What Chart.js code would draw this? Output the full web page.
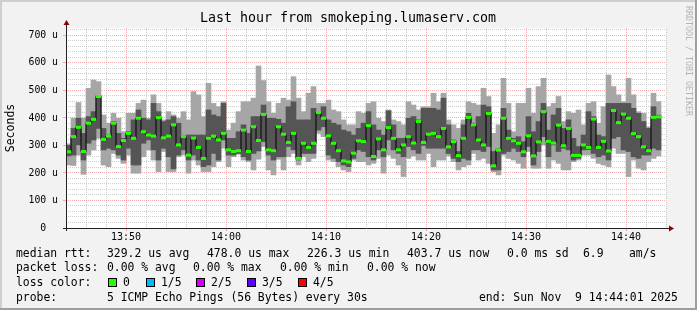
<!DOCTYPE html>
<html>
<head>
<meta charset="utf-8">
<script src="https://cdn.jsdelivr.net/npm/chart.js@4.4.1/dist/chart.umd.min.js"></script>
<style>
  html, body { margin: 0; padding: 0; background: #f2f2f2; }
  canvas { display: block; }
</style>
</head>
<body>
<canvas id="pingChart" width="697" height="310"></canvas>
<script>
// Smokeping style graph: 5 pings every 30 s, values in microseconds
const startTime = 13 * 3600 + 44 * 60;   // 13:44:00
const endTime = 14 * 3600 + 44 * 60;     // 14:44:00
const stepSeconds = 30;

// sorted pings per step: min, 2nd, median, 4th, max
const pingMin = [229,227,265,195,265,284,326,229,223,271,253,235,265,199,199,259,284,247,205,278,
  205,205,259,265,199,247,229,205,205,223,241,290,223,259,268,247,241,211,250,296,
  211,193,250,211,259,271,229,259,241,253,344,332,247,241,223,211,205,247,241,241,
  229,235,253,199,265,253,229,187,253,262,247,247,271,223,247,247,262,241,211,223,
  229,271,247,253,235,205,193,265,253,247,235,217,278,217,217,302,217,247,235,211,
  211,241,247,265,265,253,235,229,223,290,271,271,187,247,217,211,241,253,262];
const pingLow = [262,265,302,247,308,320,362,284,290,284,265,247,290,229,229,308,320,284,247,290,
  259,215,265,284,247,265,247,223,229,271,247,320,265,265,271,259,247,271,280,314,
  265,247,259,259,296,284,247,271,271,271,356,368,265,253,241,229,223,253,284,278,
  259,247,284,259,320,284,271,259,296,284,271,300,290,290,290,290,271,253,241,253,
  247,284,284,278,296,211,211,271,278,290,278,259,296,229,278,332,259,302,278,290,
  284,247,253,284,285,271,259,265,247,326,332,284,278,259,253,265,265,290,284];
const pingMedian = [277,332,366,278,381,395,478,322,334,381,296,318,344,326,399,350,338,334,401,328,
  334,375,302,332,265,327,293,253,326,334,320,344,284,278,281,356,278,368,318,413,
  284,281,368,341,311,344,253,308,293,308,420,399,335,308,281,244,240,272,317,314,
  372,260,324,284,365,326,284,302,332,309,387,311,341,344,332,362,295,314,263,326,
  402,375,320,302,416,226,283,399,326,317,308,277,335,262,313,423,315,309,374,299,
  362,264,264,302,293,396,293,315,280,427,383,414,399,343,332,295,281,402,404];
const pingHigh = [300,362,399,344,405,423,482,362,338,387,344,326,350,393,429,399,393,453,423,387,
  393,405,381,336,338,338,338,338,429,411,405,453,326,326,350,375,344,405,405,447,
  399,399,395,381,441,459,393,393,393,435,423,441,393,381,375,356,350,338,362,381,
  423,375,356,338,426,375,326,326,399,405,393,435,435,435,429,472,375,320,278,375,
  417,381,405,447,441,278,288,435,356,326,332,314,405,350,387,453,356,411,435,362,
  393,326,296,338,423,405,338,332,453,453,453,453,453,435,417,387,362,441,410];
const pingMax = [306,399,456,399,508,538,532,411,381,417,399,350,417,417,453,465,399,484,453,393,
  423,411,399,423,393,496,484,405,526,453,441,459,356,381,423,459,459,472,589,536,
  459,417,453,472,465,550,472,423,490,514,453,453,465,429,423,393,375,375,423,417,
  453,459,399,387,429,393,387,375,459,447,429,441,441,490,459,490,393,375,362,393,
  459,453,447,508,478,344,375,544,453,350,453,453,508,417,514,544,441,453,478,387,
  423,417,429,375,453,459,381,441,556,514,484,459,544,484,423,417,368,490,459];

const yMax = 727;
const lossLabels = ['0', '1/5', '2/5', '3/5', '4/5'];
const lossColors = ['#26ff00', '#00b8ff', '#d400ff', '#5e00ff', '#ff0000'];

const sampleTimes = pingMedian.map((v, i) => startTime + i * stepSeconds + stepSeconds / 2);

const monoFont = "'DejaVu Sans Mono', monospace";
const majorGrid = 'rgba(240,120,120,0.6)';
const minorGrid = 'rgba(185,185,185,0.7)';

function hhmm(sec) {
  const h = Math.floor(sec / 3600);
  const m = Math.floor((sec % 3600) / 60);
  return String(h).padStart(2, '0') + ':' + String(m).padStart(2, '0');
}

// background, axes, title and the rrdtool legend block
const rrdFrame = {
  id: 'rrdFrame',
  beforeDraw(chart) {
    const { ctx, chartArea: a, width, height } = chart;
    ctx.save();
    ctx.fillStyle = '#f2f2f2';
    ctx.fillRect(0, 0, width, height);
    ctx.fillStyle = '#cfcfcf';
    ctx.fillRect(0, 0, width, 2);
    ctx.fillRect(0, 0, 2, height);
    ctx.fillStyle = '#9e9e9e';
    ctx.fillRect(0, height - 2, width, 2);
    ctx.fillRect(width - 2, 0, 2, height);
    ctx.fillStyle = '#ffffff';
    ctx.fillRect(a.left, a.top, a.width, a.height);
    ctx.restore();
  },
  afterDraw(chart) {
    const { ctx, chartArea: a } = chart;
    ctx.save();

    // axes with arrows
    ctx.strokeStyle = '#212121';
    ctx.lineWidth = 1;
    ctx.beginPath();
    ctx.moveTo(a.left + 0.5, a.bottom + 3);
    ctx.lineTo(a.left + 0.5, a.top - 4);
    ctx.moveTo(a.left - 3, a.bottom + 0.5);
    ctx.lineTo(a.right + 4, a.bottom + 0.5);
    ctx.stroke();
    ctx.fillStyle = '#8b0000';
    ctx.beginPath();
    ctx.moveTo(a.left + 0.5, a.top - 8);
    ctx.lineTo(a.left - 2.5, a.top - 3);
    ctx.lineTo(a.left + 3.5, a.top - 3);
    ctx.fill();
    ctx.beginPath();
    ctx.moveTo(a.right + 8, a.bottom + 0.5);
    ctx.lineTo(a.right + 3, a.bottom - 2.5);
    ctx.lineTo(a.right + 3, a.bottom + 3.5);
    ctx.fill();

    // title
    ctx.fillStyle = '#000';
    ctx.textBaseline = 'middle';
    ctx.textAlign = 'center';
    ctx.font = '13.3px ' + monoFont;
    ctx.fillText('Last hour from smokeping.lumaserv.com', 348, 19);

    // vertical axis title
    ctx.save();
    ctx.translate(11, 128);
    ctx.rotate(-Math.PI / 2);
    ctx.font = '11.5px ' + monoFont;
    ctx.fillText('Seconds', 0, 0);
    ctx.restore();

    // watermark
    ctx.save();
    ctx.translate(688, 6);
    ctx.rotate(Math.PI / 2);
    ctx.textAlign = 'left';
    ctx.fillStyle = '#b4b4b4';
    ctx.font = '8.3px ' + monoFont;
    ctx.fillText('RRDTOOL / TOBI OETIKER', 0, 0);
    ctx.restore();

    // legend
    ctx.textAlign = 'left';
    ctx.font = '11.4px ' + monoFont;
    const rows = [
      [254, [[16, 'median rtt:'], [107, '329.2 us avg'], [207, '478.0 us max'], [307, '226.3 us min'],
             [407, '403.7 us now'], [507, '0.0 ms sd'], [583, '6.9'], [629, 'am/s']]],
      [268, [[16, 'packet loss:'], [107, '0.00 % avg'], [193, '0.00 % max'], [280, '0.00 % min'], [367, '0.00 % now']]],
      [283, [[16, 'loss color:']]],
      [298, [[16, 'probe:'], [107, '5 ICMP Echo Pings (56 Bytes) every 30s'], [479, 'end: Sun Nov  9 14:44:01 2025']]]
    ];
    rows.forEach(([y, items]) => items.forEach(([x, txt]) => ctx.fillText(txt, x, y)));

    const boxX = [108, 146, 196, 247, 298];
    lossLabels.forEach((lbl, i) => {
      ctx.fillStyle = lossColors[i];
      ctx.fillRect(boxX[i], 278, 9, 9);
      ctx.strokeStyle = '#000';
      ctx.strokeRect(boxX[i] + 0.5, 278.5, 8, 8);
      ctx.fillStyle = '#000';
      ctx.fillText(lbl, boxX[i] + 15, 283);
    });

    ctx.restore();
  }
};

function rangeData(low, high) {
  return sampleTimes.map((t, i) => ({ x: t, y: [low[i], high[i]] }));
}

new Chart(document.getElementById('pingChart'), {
  type: 'bar',
  data: {
    datasets: [
      {
        label: 'outer smoke',
        data: rangeData(pingMin, pingMax),
        backgroundColor: '#a6a6a6',
        grouped: false,
        barPercentage: 1,
        categoryPercentage: 1,
        borderWidth: 0,
        order: 3
      },
      {
        label: 'inner smoke',
        data: rangeData(pingLow, pingHigh),
        backgroundColor: '#555555',
        grouped: false,
        barPercentage: 1,
        categoryPercentage: 1,
        borderWidth: 0,
        order: 2
      },
      {
        type: 'line',
        label: 'median rtt',
        data: sampleTimes.map((t, i) => ({ x: t, y: pingMedian[i] })),
        stepped: 'middle',
        borderColor: '#000000',
        borderWidth: 1,
        pointStyle: 'line',
        pointRadius: 2.5,
        pointBorderWidth: 3,
        pointBorderColor: lossColors[0],
        pointBackgroundColor: lossColors[0],
        order: 1
      }
    ]
  },
  options: {
    responsive: false,
    animation: false,
    devicePixelRatio: 1,
    layout: { padding: { left: 0, right: 31, top: 28, bottom: 0 } },
    plugins: {
      legend: { display: false },
      tooltip: { enabled: false }
    },
    scales: {
      x: {
        type: 'linear',
        min: startTime,
        max: endTime,
        offset: false,
        afterFit: (scale) => { scale.height = 82; },
        afterBuildTicks: (scale) => {
          const ticks = [];
          for (let t = startTime; t <= endTime; t += 120) ticks.push({ value: t });
          scale.ticks = ticks;
        },
        ticks: {
          autoSkip: false,
          maxRotation: 0,
          padding: 0,
          color: '#000',
          font: { family: monoFont, size: 10 },
          callback: (v) => (v % 600 === 0 ? hhmm(v) : '')
        },
        grid: {
          offset: false,
          tickLength: 3,
          color: (c) => (c.tick && c.tick.value % 600 === 0 ? majorGrid : minorGrid),
          tickColor: (c) => (c.tick && c.tick.value % 600 === 0 ? majorGrid : 'rgba(0,0,0,0)')
        },
        border: { display: false, dash: [1, 1] }
      },
      y: {
        min: 0,
        max: yMax,
        afterFit: (scale) => { scale.width = 66; },
        afterBuildTicks: (scale) => {
          const ticks = [];
          for (let v = 0; v <= yMax; v += 20) ticks.push({ value: v });
          scale.ticks = ticks;
        },
        ticks: {
          autoSkip: false,
          padding: 5,
          color: '#000',
          font: { family: monoFont, size: 9.8 },
          callback: (v) => (v % 100 === 0 ? (v === 0 ? '0  ' : v + ' u') : '')
        },
        grid: {
          tickLength: 3,
          color: (c) => (c.tick && c.tick.value % 100 === 0 ? majorGrid : minorGrid),
          tickColor: (c) => (c.tick && c.tick.value % 100 === 0 ? majorGrid : 'rgba(0,0,0,0)')
        },
        border: { display: false, dash: [1, 1] }
      }
    }
  },
  plugins: [rrdFrame]
});
</script>
</body>
</html>
